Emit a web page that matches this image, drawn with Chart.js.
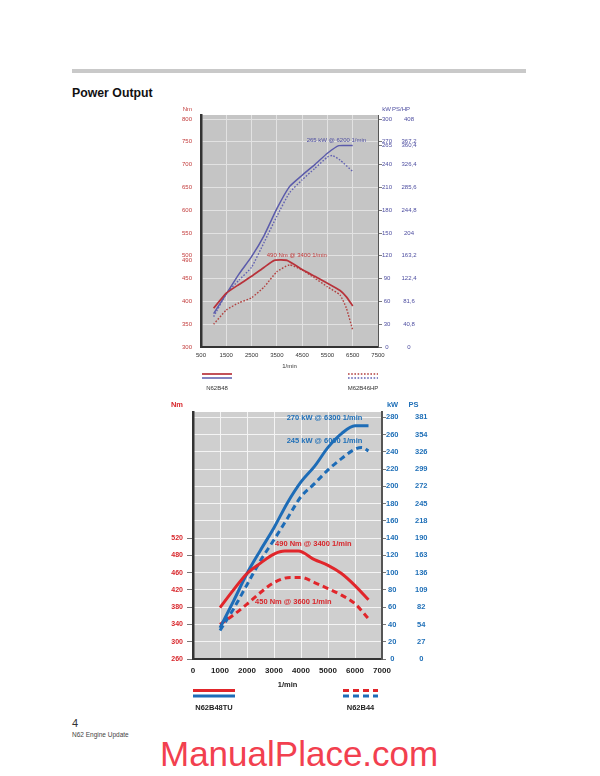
<!DOCTYPE html>
<html><head><meta charset="utf-8">
<script src="https://cdn.jsdelivr.net/npm/chart.js@4.4.1/dist/chart.umd.min.js"></script>
<style>
html,body{margin:0;padding:0;background:#fff;}
body{width:600px;height:776px;position:relative;overflow:hidden;font-family:"Liberation Sans",Arial,sans-serif;}
#bar{position:absolute;left:72px;top:69px;width:454px;height:4px;background:#c9c9c9;}
#title{position:absolute;left:72px;top:86.5px;font-weight:bold;font-size:12.3px;line-height:1;color:#111;}
#c1{position:absolute;left:140px;top:100px;}
#c2{position:absolute;left:140px;top:395px;}
#pnum{position:absolute;left:72px;top:718px;font-size:11px;line-height:1;color:#333;}
#pname{position:absolute;left:72px;top:731.5px;font-size:6.5px;line-height:1;color:#444;}
#wm{position:absolute;left:160px;top:735.5px;font-size:35px;line-height:1;color:#f2404f;white-space:nowrap;}
</style></head>
<body>
<div id="bar"></div>
<div id="title">Power Output</div>
<canvas id="c1" width="300" height="300"></canvas>
<canvas id="c2" width="300" height="325"></canvas>
<div id="pnum">4</div>
<div id="pname">N62 Engine Update</div>
<div id="wm">ManualPlace.com</div>
<script>
// ---------- Chart 1 : N62B48 vs M62B46HP ----------
const c1XTicks = [500,1500,2500,3500,4500,5500,6500,7500];
const c1NmTicks = [300,350,400,450,490,500,550,600,650,700,750,800];
const c1KwTicks = [0,30,60,90,120,150,180,210,240,265,270,300];
const c1RpmB48Torque = [1000,1500,2000,2500,3000,3400,3900,4500,5000,5500,6000,6250,6500];
const c1TorqueB48   = [385,418,437,455,475,490,490,470,455,440,424,410,390];
const c1RpmB48Power = [1000,1500,2000,2500,3000,3500,4000,4500,5000,5500,5950,6500];
const c1PowerB48    = [44,70,96,119,147,182,211,226,240,255,265,265];
const c1RpmHPTorque = [1000,1500,2000,2500,3000,3500,4000,4500,5000,5500,6000,6250,6500];
const c1TorqueHP    = [350,381,397,408,432,465,480,469,451,432,414,385,337];
const c1RpmHPPower  = [1000,1500,2000,2500,3000,3500,4000,4500,5000,5500,5700,6000,6500];
const c1PowerHP     = [40,70,88,105,138,172,203,220,235,250,252,246,231];

// ---------- Chart 2 : N62B48TU vs N62B44 ----------
const c2XTicks = [0,1000,2000,3000,4000,5000,6000,7000];
const c2NmTicks = [260,300,340,380,420,460,500,540];
const c2NmLabels = ['260','300','340','380','420','460','480','520'];
const c2KwTicks = [0,20,40,60,80,100,120,140,160,180,200,220,240,260,280];
const c2RpmTUTorque = [1000,1500,2000,2500,3000,3400,3900,4500,5000,5500,6000,6500];
const c2TorqueTU    = [379,420,458,482,503,510,510,490,477,458,430,397];
const c2RpmTUPower  = [1000,1500,2000,2500,3000,3500,4000,4500,5000,5500,6000,6500];
const c2PowerTU     = [36,67,99,126,152,181,205,223,245,261,270,270];
const c2RpmB44Torque = [1000,1500,2000,2500,3000,3600,4000,4500,5000,5500,6000,6500];
const c2TorqueB44    = [340,362,387,414,437,449,449,437,423,408,388,353];
const c2RpmB44Power  = [1000,1500,2000,2500,3000,3500,4000,4500,5000,5500,6000,6250,6500];
const c2PowerB44     = [33,58,86,114,138,163,188,203,219,232,243,245,241];

const PS_PER_KW = 1.36;
const xy = (xs, ys) => xs.map((x, i) => ({x, y: ys[i]}));
const setTicks = arr => s => { s.ticks = arr.map(v => ({value: v})); };
const fmtComma = v => { const r = Math.round(v * 10) / 10; return String(r).replace('.', ','); };
const plain = v => String(v);

Chart.defaults.font.family = '"Liberation Sans", Arial, sans-serif';

const plotBg = {
  id: 'plotBg',
  beforeDraw(chart, args, o) {
    const {ctx, chartArea: a} = chart;
    ctx.save(); ctx.fillStyle = o.color;
    ctx.fillRect(a.left, a.top, a.right - a.left, a.bottom - a.top);
    ctx.restore();
  }
};
const extras = {
  id: 'extras',
  afterDraw(chart, args, o) {
    const {ctx, chartArea: a, scales} = chart;
    ctx.save();
    ctx.textBaseline = 'middle';
    for (const t of o.notes) {
      ctx.font = o.noteFont; ctx.fillStyle = t.color; ctx.textAlign = 'left';
      ctx.fillText(t.text, scales.x.getPixelForValue(t.x), scales[t.axis].getPixelForValue(t.y));
    }
    for (const h of o.headers) {
      ctx.font = o.headFont; ctx.fillStyle = h.color; ctx.textAlign = h.align;
      const x = h.side === 'left' ? a.left + h.dx : a.right + h.dx;
      ctx.fillText(h.text, x, a.top + h.dy);
    }
    for (const g of o.legend) {
      const x0 = g.side === 'left' ? a.left + g.x0 : a.right + g.x0;
      const x1 = x0 + g.w;
      g.ds.forEach((di, k) => {
        const d = chart.data.datasets[di];
        ctx.beginPath();
        ctx.strokeStyle = d.borderColor; ctx.lineWidth = d.borderWidth;
        ctx.setLineDash(d.borderDash || []);
        const y = a.bottom + o.legendY[k];
        ctx.moveTo(x0, y); ctx.lineTo(x1, y); ctx.stroke();
      });
      ctx.setLineDash([]);
      ctx.font = o.legendFont; ctx.fillStyle = o.legendColor; ctx.textAlign = 'center';
      ctx.fillText(g.label, (x0 + x1) / 2, a.bottom + o.legendY[2]);
    }
    ctx.restore();
  }
};

// ---------------- Chart 1 ----------------
const c1Red = '#b8323a', c1RedDot = '#b2403f', c1Blue = '#5b5bab', c1BlueDot = '#6262b2';
const c1LeftCol = '#c23a3a', c1RightCol = '#4d4da0';
const c1NmMax = 808.8, c1KwMax = 305.3;
new Chart(document.getElementById('c1'), {
  type: 'line',
  data: { datasets: [
    {label: 'N62B48 Nm', data: xy(c1RpmB48Torque, c1TorqueB48), yAxisID: 'nm', borderColor: c1Red, borderWidth: 1.7, tension: 0.15},
    {label: 'N62B48 kW', data: xy(c1RpmB48Power, c1PowerB48), yAxisID: 'kw', borderColor: c1Blue, borderWidth: 1.5, tension: 0.15},
    {label: 'M62B46HP Nm', data: xy(c1RpmHPTorque, c1TorqueHP), yAxisID: 'nm', borderColor: c1RedDot, borderWidth: 1.4, borderDash: [1.6, 1.6], tension: 0.15},
    {label: 'M62B46HP kW', data: xy(c1RpmHPPower, c1PowerHP), yAxisID: 'kw', borderColor: c1BlueDot, borderWidth: 1.4, borderDash: [1.6, 1.6], tension: 0.15}
  ]},
  plugins: [plotBg, extras],
  options: {
    responsive: false, animation: false, devicePixelRatio: 1,
    layout: {padding: {left: 0, right: 0, top: 15, bottom: 30}},
    elements: {point: {radius: 0}},
    plugins: {
      legend: {display: false}, tooltip: {enabled: false},
      plotBg: {color: '#c5c5c5'},
      extras: {
        noteFont: '6px "Liberation Sans", Arial, sans-serif',
        notes: [
          {text: '265 kW @ 6200 1/min', x: 4680, y: 272, axis: 'kw', color: c1RightCol},
          {text: '490 Nm @ 3400 1/min', x: 3100, y: 502, axis: 'nm', color: c1LeftCol}
        ],
        headFont: '6px "Liberation Sans", Arial, sans-serif',
        headers: [
          {text: 'Nm', side: 'left', dx: -9, dy: -6, align: 'right', color: c1LeftCol},
          {text: 'kW', side: 'right', dx: 8.5, dy: -6, align: 'center', color: c1RightCol},
          {text: 'PS/HP', side: 'right', dx: 23, dy: -6, align: 'center', color: c1RightCol}
        ],
        legend: [
          {label: 'N62B48', side: 'left', x0: 1, w: 30, ds: [0, 1]},
          {label: 'M62B46HP', side: 'right', x0: -30, w: 30, ds: [2, 3]}
        ],
        legendY: [27, 31, 41],
        legendFont: '6px "Liberation Sans", Arial, sans-serif',
        legendColor: '#333'
      }
    },
    scales: {
      x: {
        type: 'linear', min: 500, max: 7500,
        afterBuildTicks: setTicks(c1XTicks),
        afterFit: s => { s.height = 23; },
        ticks: {autoSkip: false, maxRotation: 0, padding: 5, color: '#333', font: {size: 6}, callback: plain},
        grid: {drawTicks: false, color: c => (c.tick && (c.tick.value === 500 || c.tick.value === 7500)) ? 'rgba(0,0,0,0)' : '#e2e2e2'},
        border: {color: '#333', width: 2},
        title: {display: true, text: '1/min', color: '#333', font: {size: 6}, padding: 0}
      },
      nm: {
        type: 'linear', position: 'left', min: 300, max: c1NmMax,
        afterBuildTicks: setTicks(c1NmTicks),
        afterFit: s => { s.width = 61; },
        ticks: {autoSkip: false, padding: 9, color: c1LeftCol, font: {size: 6}, callback: plain},
        grid: {drawTicks: false, color: c => (c.tick && (c.tick.value === 490 || c.tick.value === 300)) ? 'rgba(0,0,0,0)' : '#e2e2e2'},
        border: {color: '#333', width: 2.5}
      },
      kw: {
        type: 'linear', position: 'right', min: 0, max: c1KwMax,
        afterBuildTicks: setTicks(c1KwTicks),
        afterFit: s => { s.width = 14; },
        ticks: {autoSkip: false, padding: 0, crossAlign: 'center', color: c1RightCol, font: {size: 6}, callback: plain},
        grid: {drawOnChartArea: false, tickLength: 4, tickColor: '#7a7a7a'},
        border: {color: '#555', width: 1}
      },
      ps: {
        type: 'linear', position: 'right', min: 0, max: c1KwMax * PS_PER_KW,
        afterBuildTicks: setTicks(c1KwTicks.map(v => v * PS_PER_KW)),
        afterFit: s => { s.width = 48; },
        ticks: {autoSkip: false, padding: 1.5, crossAlign: 'center', color: c1RightCol, font: {size: 6}, callback: v => fmtComma(v)},
        grid: {display: false},
        border: {display: false}
      }
    }
  }
});

// ---------------- Chart 2 ----------------
const c2Red = '#e1262b', c2Blue = '#1d6cb7';
const c2LeftCol = '#d8262b', c2RightCol = '#2070b8';
const c2KwMax = 286, c2NmMax = 260 + 2 * c2KwMax;
new Chart(document.getElementById('c2'), {
  type: 'line',
  data: { datasets: [
    {label: 'N62B48TU Nm', data: xy(c2RpmTUTorque, c2TorqueTU), yAxisID: 'nm', borderColor: c2Red, borderWidth: 3, cubicInterpolationMode: 'monotone'},
    {label: 'N62B48TU kW', data: xy(c2RpmTUPower, c2PowerTU), yAxisID: 'kw', borderColor: c2Blue, borderWidth: 3, cubicInterpolationMode: 'monotone'},
    {label: 'N62B44 Nm', data: xy(c2RpmB44Torque, c2TorqueB44), yAxisID: 'nm', borderColor: c2Red, borderWidth: 3, borderDash: [6, 4], cubicInterpolationMode: 'monotone'},
    {label: 'N62B44 kW', data: xy(c2RpmB44Power, c2PowerB44), yAxisID: 'kw', borderColor: c2Blue, borderWidth: 3, borderDash: [6, 4], cubicInterpolationMode: 'monotone'}
  ]},
  plugins: [plotBg, extras],
  options: {
    responsive: false, animation: false, devicePixelRatio: 1,
    layout: {padding: {left: 0, right: 0, top: 17, bottom: 31}},
    elements: {point: {radius: 0}},
    plugins: {
      legend: {display: false}, tooltip: {enabled: false},
      plotBg: {color: '#cfcfcf'},
      extras: {
        noteFont: 'bold 7.5px "Liberation Sans", Arial, sans-serif',
        notes: [
          {text: '270 kW @ 6300 1/min', x: 3470, y: 278.6, axis: 'kw', color: c2RightCol},
          {text: '245 kW @ 6000 1/min', x: 3470, y: 252.3, axis: 'kw', color: c2RightCol},
          {text: '490 Nm @ 3400 1/min', x: 3040, y: 526, axis: 'nm', color: c2LeftCol},
          {text: '450 Nm @ 3600 1/min', x: 2300, y: 392.6, axis: 'nm', color: c2LeftCol}
        ],
        headFont: 'bold 7.5px "Liberation Sans", Arial, sans-serif',
        headers: [
          {text: 'Nm', side: 'left', dx: -10, dy: -7, align: 'right', color: c2LeftCol},
          {text: 'kW', side: 'right', dx: 10.5, dy: -7, align: 'center', color: c2RightCol},
          {text: 'PS', side: 'right', dx: 31.5, dy: -7, align: 'center', color: c2RightCol}
        ],
        legend: [
          {label: 'N62B48TU', side: 'left', x0: 0, w: 42, ds: [0, 1]},
          {label: 'N62B44', side: 'right', x0: -39, w: 35, ds: [2, 3]}
        ],
        legendY: [31.5, 37, 49],
        legendFont: 'bold 7.5px "Liberation Sans", Arial, sans-serif',
        legendColor: '#222'
      }
    },
    scales: {
      x: {
        type: 'linear', min: 0, max: 7000,
        afterBuildTicks: setTicks(c2XTicks),
        afterFit: s => { s.height = 30; },
        ticks: {autoSkip: false, maxRotation: 0, padding: 7, color: '#222', font: {size: 8, weight: 'bold'}, callback: plain},
        grid: {drawTicks: false, color: c => (c.tick && (c.tick.value === 0 || c.tick.value === 7000)) ? 'rgba(0,0,0,0)' : '#f4f4f4'},
        border: {color: '#333', width: 2},
        title: {display: true, text: '1/min', color: '#222', font: {size: 7.5, weight: 'bold'}, padding: 0}
      },
      nm: {
        type: 'linear', position: 'left', min: 260, max: c2NmMax,
        afterBuildTicks: setTicks(c2NmTicks),
        afterFit: s => { s.width = 53; },
        ticks: {autoSkip: false, padding: 4, color: c2LeftCol, font: {size: 7, weight: 'bold'},
          callback: v => c2NmLabels[c2NmTicks.indexOf(v)]},
        grid: {drawOnChartArea: false, tickLength: 6, tickColor: '#777'},
        border: {color: '#333', width: 2.5}
      },
      kw: {
        type: 'linear', position: 'right', min: 0, max: c2KwMax,
        afterBuildTicks: setTicks(c2KwTicks),
        afterFit: s => { s.width = 18; },
        ticks: {autoSkip: false, padding: 0, crossAlign: 'center', color: c2RightCol, font: {size: 7.5, weight: 'bold'}, callback: plain},
        grid: {tickLength: 4, tickColor: '#777', color: c => (c.tick && c.tick.value === 0) ? 'rgba(0,0,0,0)' : '#f4f4f4'},
        border: {color: '#555', width: 2}
      },
      ps: {
        type: 'linear', position: 'right', min: 0, max: c2KwMax * PS_PER_KW,
        afterBuildTicks: setTicks(c2KwTicks.map(v => v * PS_PER_KW)),
        afterFit: s => { s.width = 40; },
        ticks: {autoSkip: false, padding: 7, crossAlign: 'center', color: c2RightCol, font: {size: 7.5, weight: 'bold'},
          callback: v => String(Math.round(v))},
        grid: {display: false},
        border: {display: false}
      }
    }
  }
});
</script>
</body></html>
